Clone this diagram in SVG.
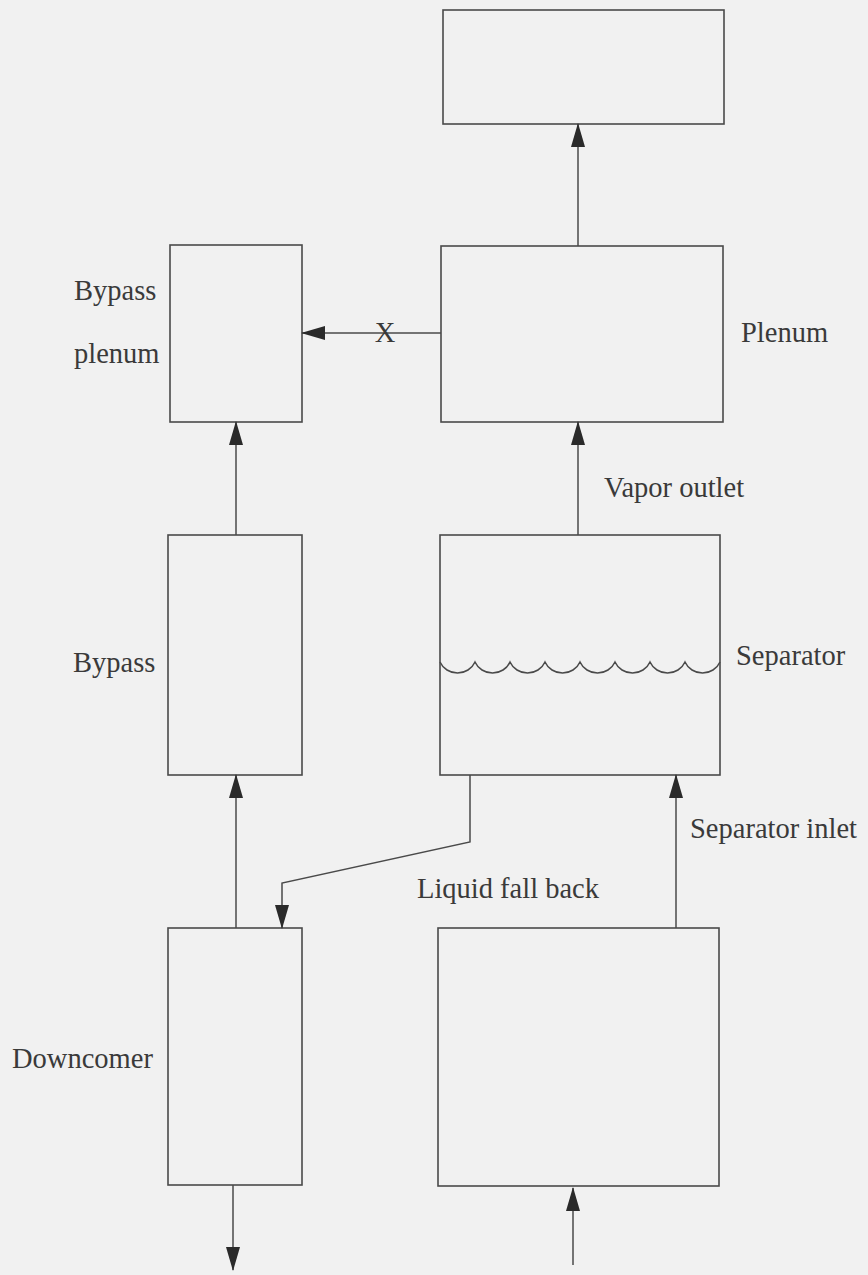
<svg xmlns="http://www.w3.org/2000/svg" width="868" height="1275" viewBox="0 0 868 1275">
<style>
.box{fill:none;stroke:#4a4a4a;stroke-width:1.6}
.ln{fill:none;stroke:#4a4a4a;stroke-width:1.5}
.t{font-family:"Liberation Serif","Times New Roman",serif;font-size:28.5px;fill:#3a3a3a}
</style>
<defs>
<marker id="ah" markerUnits="userSpaceOnUse" markerWidth="24" markerHeight="16" viewBox="0 0 24 16" refX="23" refY="8" orient="auto">
<path d="M0,1 L24,8 L0,15 Z" fill="#2a2a2a"/>
</marker>
</defs>
<rect width="868" height="1275" fill="#f1f1f1"/>
<g id="top-box"><rect class="box" x="443" y="10" width="281" height="114"/></g>
<g id="bypass-plenum"><rect class="box" x="170" y="245" width="132" height="177"/>
<text class="t" x="74" y="300">Bypass</text><text class="t" x="74" y="363">plenum</text></g>
<g id="plenum"><rect class="box" x="441" y="246" width="282" height="176"/>
<text class="t" x="741" y="342">Plenum</text></g>
<g id="bypass"><rect class="box" x="168" y="535" width="134" height="240"/>
<text class="t" x="73" y="672">Bypass</text></g>
<g id="separator"><rect class="box" x="440" y="535" width="280" height="240"/>
<path class="ln" d="M440,662 a19 18 0 0 0 35 0 a19 18 0 0 0 35 0 a19 18 0 0 0 35 0 a19 18 0 0 0 35 0 a19 18 0 0 0 35 0 a19 18 0 0 0 35 0 a19 18 0 0 0 35 0 a19 18 0 0 0 35 0"/>
<text class="t" x="736" y="665">Separator</text></g>
<g id="downcomer"><rect class="box" x="168" y="928" width="134" height="257"/>
<text class="t" x="12" y="1068">Downcomer</text></g>
<g id="bottom-box"><rect class="box" x="438" y="928" width="281" height="258"/></g>
<g id="connectors">
<path class="ln" d="M578,246 L578,124" marker-end="url(#ah)"/>
<path class="ln" d="M441,333 L302,333" marker-end="url(#ah)"/>
<text class="t" x="385" y="342" text-anchor="middle">X</text>
<path class="ln" d="M236,535 L236,422" marker-end="url(#ah)"/>
<path class="ln" d="M578,535 L578,422" marker-end="url(#ah)"/>
<text class="t" x="604" y="497">Vapor outlet</text>
<path class="ln" d="M236,928 L236,775" marker-end="url(#ah)"/>
<path class="ln" d="M470,775 L470,842 L282,883 L282,928" marker-end="url(#ah)"/>
<text class="t" x="417" y="898">Liquid fall back</text>
<path class="ln" d="M676,928 L676,775" marker-end="url(#ah)"/>
<text class="t" x="690" y="838">Separator inlet</text>
<path class="ln" d="M233,1185 L233,1270" marker-end="url(#ah)"/>
<path class="ln" d="M573,1265 L573,1188" marker-end="url(#ah)"/>
</g>
</svg>
